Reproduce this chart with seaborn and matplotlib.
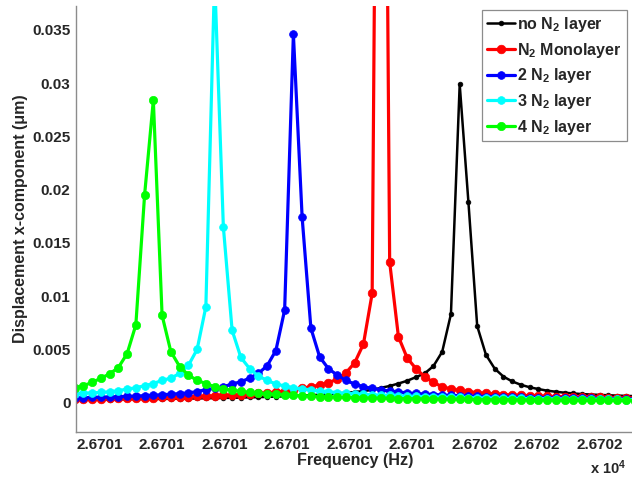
import matplotlib
matplotlib.use("Agg")
import matplotlib.pyplot as plt
import seaborn as sns
import pandas as pd

# frequency sweep (Hz), shared by all curves
freq_hz = [26700.8604, 26700.8744, 26700.8884, 26700.9024, 26700.9164, 26700.9304, 26700.9444,
           26700.9584, 26700.9724, 26700.9864, 26701.0004, 26701.0144, 26701.0284, 26701.0424,
           26701.0564, 26701.0704, 26701.0844, 26701.0984, 26701.1124, 26701.1264, 26701.1404,
           26701.1544, 26701.1684, 26701.1824, 26701.1964, 26701.2104, 26701.2244, 26701.2384,
           26701.2524, 26701.2664, 26701.2804, 26701.2944, 26701.3084, 26701.3224, 26701.3364,
           26701.3504, 26701.3644, 26701.3784, 26701.3924, 26701.4064, 26701.4204, 26701.4344,
           26701.4484, 26701.4624, 26701.4764, 26701.4904, 26701.5044, 26701.5184, 26701.5324,
           26701.5464, 26701.5604, 26701.5744, 26701.5884, 26701.6024, 26701.6164, 26701.6304,
           26701.6444, 26701.6584, 26701.6724, 26701.6864, 26701.7004, 26701.7144, 26701.7284,
           26701.7424, 26701.7564]

# displacement x-component (um)
no_layer = [0.00027, 0.00028, 0.00029, 0.00029, 0.0003, 0.00031, 0.00032, 0.00033, 0.00034, 0.00035,
            0.00036, 0.00037, 0.00038, 0.00039, 0.0004, 0.00042, 0.00043, 0.00045, 0.00046, 0.00048,
            0.0005, 0.00052, 0.00055, 0.00057, 0.0006, 0.00063, 0.00067, 0.00071, 0.00075, 0.0008,
            0.00086, 0.00093, 0.001, 0.0011, 0.0012, 0.0014, 0.00157, 0.0018, 0.00206, 0.0024,
            0.00275, 0.00344, 0.00478, 0.00832, 0.0299, 0.0188, 0.0072, 0.0045, 0.0032, 0.00245,
            0.002, 0.00168, 0.00145, 0.00128, 0.00113, 0.00103, 0.00094, 0.00087, 0.00081, 0.00077,
            0.00073, 0.0007, 0.00067, 0.00064, 0.00062]
monolayer = [0.00036, 0.00037, 0.00038, 0.00039, 0.0004, 0.00042, 0.00043, 0.00045, 0.00046, 0.00048,
             0.0005, 0.00052, 0.00054, 0.00056, 0.00059, 0.00062, 0.00065, 0.00068, 0.00072, 0.00076,
             0.00081, 0.00087, 0.00093, 0.001, 0.0011, 0.00122, 0.00135, 0.0015, 0.00166, 0.00188,
             0.0022, 0.0028, 0.00375, 0.0055, 0.01026, 0.12, 0.0132, 0.0062, 0.0042, 0.0032,
             0.00244, 0.0019, 0.0015, 0.0013, 0.00115, 0.00104, 0.00095, 0.00088, 0.00082, 0.00077,
             0.00073, 0.00069, 0.00066, 0.00063, 0.0006, 0.00058, 0.00056, 0.00054, 0.00052, 0.0005,
             0.00049, 0.00047, 0.00046, 0.00045, 0.00044]
two_layer = [0.00046, 0.00047, 0.00049, 0.00052, 0.00054, 0.00057, 0.0006, 0.00063, 0.00066, 0.00071,
             0.00075, 0.0008, 0.00086, 0.00092, 0.00105, 0.00122, 0.00135, 0.0015, 0.00175, 0.00197,
             0.0023, 0.00275, 0.00347, 0.0049, 0.0087, 0.0346, 0.0174, 0.007, 0.0043, 0.0032,
             0.0026, 0.0021, 0.00175, 0.0015, 0.00135, 0.0012, 0.0011, 0.001, 0.00093, 0.00087,
             0.00082, 0.00077, 0.00073, 0.00069, 0.00066, 0.00063, 0.0006, 0.00058, 0.00055, 0.00053,
             0.00051, 0.0005, 0.00048, 0.00047, 0.00045, 0.00044, 0.00043, 0.00042, 0.00041, 0.0004,
             0.00039, 0.00038, 0.00037, 0.00036, 0.00035]
three_layer = [0.00086, 0.0009, 0.00093, 0.00097, 0.00103, 0.00113, 0.00128, 0.0014, 0.0016, 0.0018,
               0.0021, 0.0023, 0.00275, 0.0035, 0.005, 0.009, 0.04, 0.0165, 0.0068, 0.00425,
               0.0032, 0.0025, 0.0021, 0.00175, 0.00157, 0.0014, 0.0013, 0.0012, 0.0011, 0.00103,
               0.00095, 0.00089, 0.00084, 0.00079, 0.00075, 0.00071, 0.00068, 0.00065, 0.00062, 0.00059,
               0.00057, 0.00055, 0.00053, 0.00051, 0.00049, 0.00048, 0.00046, 0.00045, 0.00044, 0.00042,
               0.00041, 0.0004, 0.00039, 0.00038, 0.00037, 0.00036, 0.00035, 0.00034, 0.00034, 0.00033,
               0.00032, 0.00032, 0.00031, 0.0003, 0.0003]
four_layer = [0.0014, 0.0016, 0.0019, 0.0023, 0.0027, 0.0033, 0.0046, 0.0073, 0.0195, 0.0284,
              0.0082, 0.0048, 0.0034, 0.0026, 0.0021, 0.0018, 0.0015, 0.0013, 0.00118, 0.00106,
              0.00098, 0.0009, 0.00084, 0.00078, 0.00073, 0.00068, 0.00064, 0.00061, 0.00058, 0.00055,
              0.00052, 0.0005, 0.00048, 0.00046, 0.00044, 0.00042, 0.00041, 0.00039, 0.00038, 0.00037,
              0.00036, 0.00035, 0.00034, 0.00033, 0.00032, 0.00031, 0.0003, 0.00029, 0.00028, 0.00028,
              0.00027, 0.00026, 0.00026, 0.00025, 0.00025, 0.00024, 0.00024, 0.00023, 0.00023, 0.00022,
              0.00022, 0.00021, 0.00021, 0.00021, 0.0002]

series_labels = [r"no N$_2$ layer", r"N$_2$ Monolayer", r"2 N$_2$ layer",
                 r"3 N$_2$ layer", r"4 N$_2$ layer"]
series_values = [no_layer, monolayer, two_layer, three_layer, four_layer]
colors = ["#000000", "#ff0000", "#0000ff", "#00ffff", "#00ff00"]
marker_sizes = [3.4, 6.2, 5.6, 5.6, 6.0]
line_widths = [1.8, 2.3, 2.3, 2.3, 2.3]

xtick_pos = [26700.9, 26701.0, 26701.1, 26701.2, 26701.3, 26701.4, 26701.5, 26701.6, 26701.7]
xtick_labels = ["2.6701", "2.6701", "2.6701", "2.6701", "2.6701", "2.6701",
                "2.6702", "2.6702", "2.6702"]
ytick_pos = [0, 0.005, 0.01, 0.015, 0.02, 0.025, 0.03, 0.035]
ytick_labels = ["0", "0.005", "0.01", "0.015", "0.02", "0.025", "0.03", "0.035"]

sns.set_style("white")
plt.rcParams["font.family"] = ["Liberation Sans", "DejaVu Sans"]
plt.rcParams["mathtext.fontset"] = "custom"
plt.rcParams["mathtext.rm"] = "Liberation Sans:bold"
plt.rcParams["mathtext.bf"] = "Liberation Sans:bold"
plt.rcParams["mathtext.default"] = "bf"

rows = []
for lab, vals in zip(series_labels, series_values):
    for f, v in zip(freq_hz, vals):
        rows.append({"freq": f, "disp": v, "layer": lab})
df = pd.DataFrame(rows)

fig = plt.figure(figsize=(6.32, 4.8), dpi=100)
ax = fig.add_axes([76 / 632, 48 / 480, 556 / 632, 426 / 480])

for lab, c, ms, lw in zip(series_labels, colors, marker_sizes, line_widths):
    sns.lineplot(data=df[df["layer"] == lab], x="freq", y="disp", ax=ax, color=c,
                 marker="o", markersize=ms, markeredgecolor=c, markeredgewidth=0.5,
                 linewidth=lw, label=lab, estimator=None)

ax.set_xlim(26700.8627, 26701.752)
ax.set_ylim(-0.00275, 0.03725)
ax.set_xticks(xtick_pos)
ax.set_xticklabels(xtick_labels)
ax.set_yticks(ytick_pos)
ax.set_yticklabels(ytick_labels)
ax.tick_params(direction="in", length=5, width=0.8, color="0.45", labelsize=11, pad=4)
for t in ax.get_xticklabels() + ax.get_yticklabels():
    t.set_fontweight("bold")

for s in ["top", "right"]:
    ax.spines[s].set_visible(False)
for s in ["left", "bottom"]:
    ax.spines[s].set_color("0.55")
    ax.spines[s].set_linewidth(1.0)

ax.set_xlabel("Frequency (Hz)", fontsize=11.6, fontweight="bold")
ax.xaxis.label.set_va("center")
ax.xaxis.set_label_coords(0.502, -0.068)
ax.set_ylabel("Displacement x-component (\u03bcm)", fontsize=11.5, fontweight="bold")
ax.yaxis.label.set_va("center")
ax.yaxis.set_label_coords(-0.1007, 0.5)

fig.text(590 / 632, 1 - 468 / 480, r"x 10$^{4}$", fontsize=10.5, fontweight="bold",
         ha="left", va="center")

leg = ax.legend(loc="upper right", bbox_to_anchor=(0.9905, 0.9906), borderaxespad=0,
                fancybox=False, edgecolor="0.55", framealpha=1,
                prop={"weight": "bold", "size": 11.5}, handlelength=1.75,
                handletextpad=0.15, borderpad=0.3, labelspacing=0.42)
leg.get_frame().set_linewidth(0.9)

fig.savefig("out.png", dpi=100)
